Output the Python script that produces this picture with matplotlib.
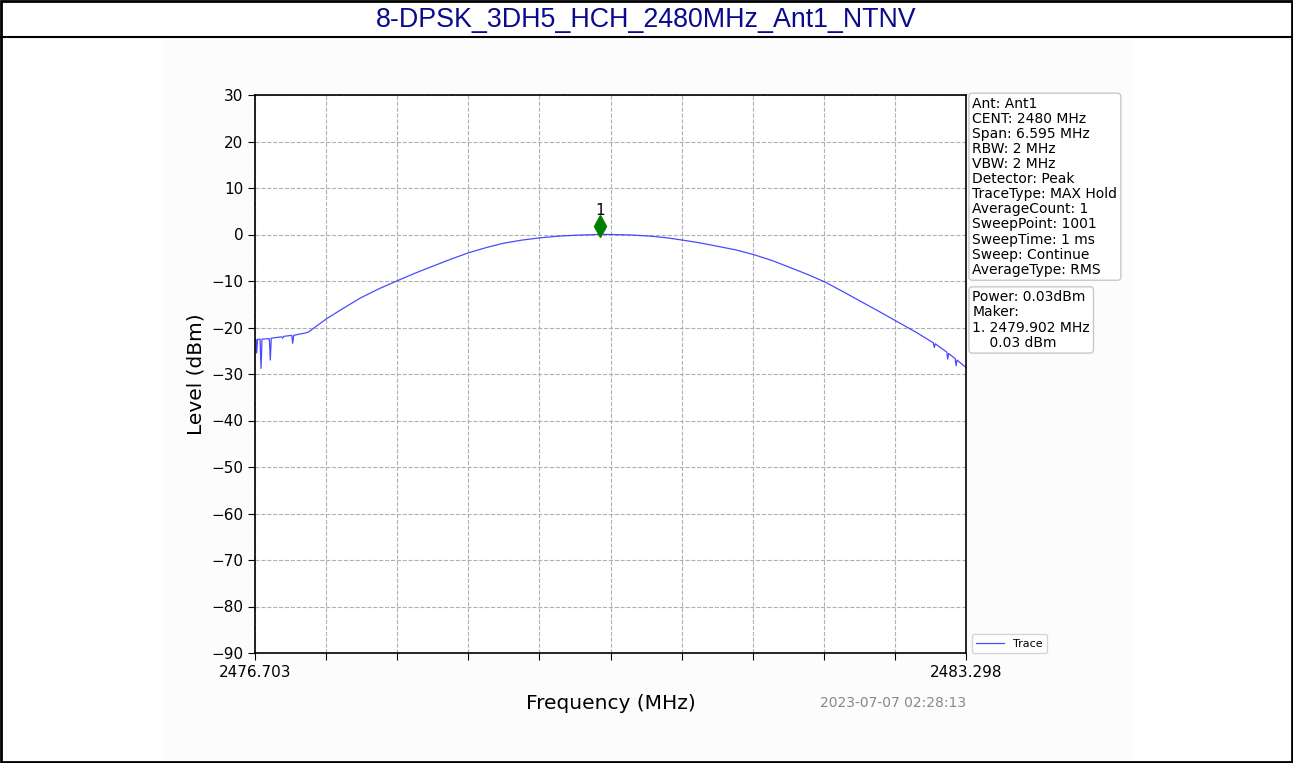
import numpy as np
import matplotlib
matplotlib.use("Agg")
import matplotlib.pyplot as plt
from matplotlib.patches import Rectangle
from matplotlib.lines import Line2D

title = "8-DPSK_3DH5_HCH_2480MHz_Ant1_NTNV"
f_start = 2476.703
f_stop = 2483.298

# trace (MHz, dBm)
freq = [2476.703, 2476.712, 2476.719, 2476.726, 2476.750, 2476.759, 2476.768,
        2476.836, 2476.845, 2476.854, 2476.950, 2476.960, 2476.970, 2477.044,
        2477.053, 2477.062, 2477.120, 2477.167, 2477.197, 2477.368, 2477.520,
        2477.677, 2477.850, 2478.027, 2478.190, 2478.354, 2478.520, 2478.688,
        2478.850, 2479.004, 2479.180, 2479.353, 2479.520, 2479.687, 2479.903,
        2480.012, 2480.190, 2480.367, 2480.520, 2480.667, 2480.830, 2480.986,
        2481.160, 2481.325, 2481.500, 2481.666, 2481.830, 2481.988, 2482.150,
        2482.315, 2482.480, 2482.649, 2482.841, 2482.995, 2483.004, 2483.013,
        2483.120, 2483.128, 2483.137, 2483.198, 2483.206, 2483.215, 2483.298]
level = [-22.6, -22.6, -25.5, -22.6, -22.5, -28.8, -22.5,
         -22.4, -27.0, -22.3, -22.0, -22.3, -21.9, -21.7,
         -23.4, -21.7, -21.4, -21.2, -21.0, -18.1, -15.9,
         -13.7, -11.7, -9.9, -8.3, -6.8, -5.3, -3.9,
         -2.8, -1.9, -1.2, -0.7, -0.35, -0.15, 0.03,
         0.0, -0.1, -0.35, -0.7, -1.2, -1.8, -2.5,
         -3.3, -4.3, -5.6, -7.1, -8.6, -10.2, -12.2,
         -14.3, -16.4, -18.6, -21.1, -23.3, -24.3, -23.5,
         -25.3, -26.8, -25.6, -26.7, -28.2, -27.0, -28.6]

marker_freq = 2479.902
marker_level = 0.03

settings = ["Ant: Ant1", "CENT: 2480 MHz", "Span: 6.595 MHz", "RBW: 2 MHz",
            "VBW: 2 MHz", "Detector: Peak", "TraceType: MAX Hold",
            "AverageCount: 1", "SweepPoint: 1001", "SweepTime: 1 ms",
            "Sweep: Continue", "AverageType: RMS"]
marker_info = ["Power: 0.03dBm", "Maker:", "1. 2479.902 MHz", "    0.03 dBm"]
stamp = "2023-07-07 02:28:13"

fig = plt.figure(figsize=(12.93, 7.63), dpi=100)
W, H = 1293, 763

# faint inner image area
fig.patches.append(Rectangle((165 / W, 0), (1130 - 165) / W, 1 - 40 / H,
                             transform=fig.transFigure, color="#fcfcfc", zorder=-5))
# outer frame and title bar
fig.patches.append(Rectangle((1 / W, 1 / H), 1 - 2 / W, 1 - 2 / H, transform=fig.transFigure,
                             fill=False, edgecolor="black", lw=2, zorder=10))
fig.lines.append(Line2D([0, 1], [1 - 37 / H, 1 - 37 / H], transform=fig.transFigure,
                        color="black", lw=1.5))
fig.text(0.5, 1 - 20 / H, title, ha="center", va="center", fontsize=19.3,
         family="Liberation Sans", color="#0a0a8a")

ax = fig.add_axes([255 / W, 1 - 653 / H, (966 - 255) / W, (653 - 95) / H])
ax.plot(freq, level, color="#2a2aff", lw=0.9, alpha=0.85, label="Trace")
ax.plot(marker_freq, marker_level + 1.8, marker="d", color="green", markersize=11, ls="none")
ax.text(marker_freq, marker_level + 3.5, "1", ha="center", va="bottom", fontsize=11)

ax.set_xlim(f_start, f_stop)
ax.set_ylim(-90, 30)
xt = np.linspace(f_start, f_stop, 11)
ax.set_xticks(xt)
ax.set_xticklabels(["%.3f" % f_start] + [""] * 9 + ["%.3f" % f_stop])
ax.set_yticks(np.arange(-90, 31, 10))
ax.tick_params(labelsize=11, length=5)
ax.grid(True, ls="--", color="#b0b0b0", lw=0.8)
ax.set_xlabel("Frequency (MHz)", fontsize=14.5, labelpad=10)
ax.set_ylabel("Level (dBm)", fontsize=14.5)
for s in ax.spines.values():
    s.set_linewidth(1.2)

box = dict(boxstyle="round,pad=0.25", facecolor="white", edgecolor="#c8c8c8")
ax.text(1.009, 0.997, "\n".join(settings), transform=ax.transAxes, ha="left", va="top",
        fontsize=10, linespacing=1.1, bbox=box)
ax.text(1.009, 0.650, "\n".join(marker_info), transform=ax.transAxes, ha="left", va="top",
        fontsize=10, linespacing=1.1, bbox=box)
ax.legend(loc="lower left", bbox_to_anchor=(1.0, -0.01), fontsize=8, handlelength=2.5)
ax.text(1.0, -0.09, stamp, transform=ax.transAxes, ha="right", va="center",
        fontsize=10, color="#888888")

fig.savefig("out.png", dpi=100)
